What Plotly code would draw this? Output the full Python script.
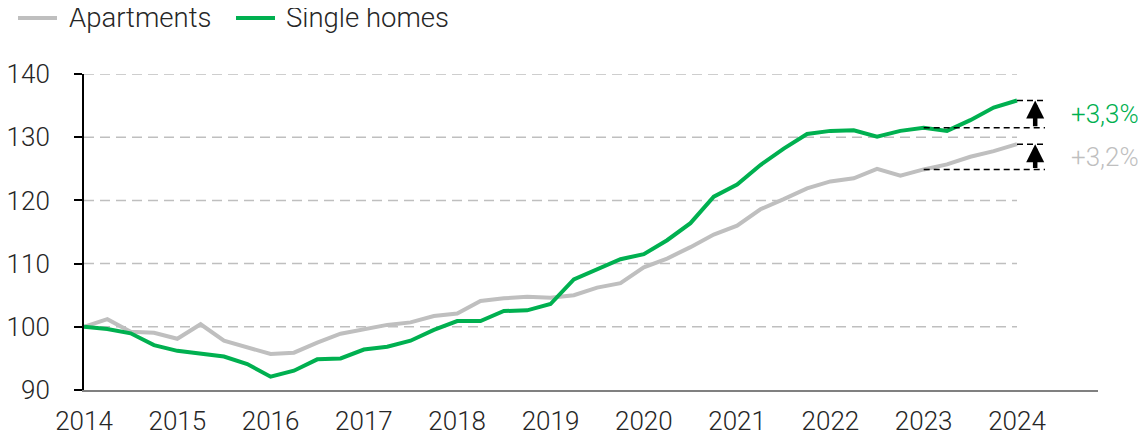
import plotly.graph_objects as go

# ---------------- data ----------------
start_year = 2014
quarters_per_year = 4
apartments = [100.0, 101.2, 99.2, 99.05, 98.1, 100.4, 97.8, 96.75, 95.7, 95.9,
              97.5, 98.9, 99.65, 100.3, 100.7, 101.7, 102.1, 104.1, 104.5, 104.75,
              104.6, 105.0, 106.2, 106.9, 109.4, 110.8, 112.6, 114.6, 116.0, 118.6,
              120.2, 121.9, 123.0, 123.5, 125.0, 123.9, 124.9, 125.7, 126.9, 127.8,
              128.9]
single_homes = [100.0, 99.65, 98.97, 97.1, 96.2, 95.7, 95.3, 94.1, 92.1, 93.05,
                94.85, 95.0, 96.4, 96.85, 97.8, 99.5, 100.9, 100.9, 102.5, 102.6,
                103.6, 107.5, 109.1, 110.7, 111.5, 113.7, 116.4, 120.6, 122.5, 125.6,
                128.2, 130.5, 131.0, 131.1, 130.1, 131.0, 131.5, 131.0, 132.7, 134.7,
                135.8]
series_names = ["Apartments", "Single homes"]
year_ticks = list(range(2014, 2025))
y_ticks = [90, 100, 110, 120, 130, 140]
yoy_labels = ["+3,2%", "+3,3%"]

x = [start_year + i / quarters_per_year for i in range(len(apartments))]

# ---------------- style ----------------
GRAY = "#BFBFBF"
GREEN = "#00B050"
TEXT = "#262626"
FONT = dict(family="Roboto", size=26, color=TEXT, weight=300)
LEG_FONT = dict(family="Roboto", size=27.5, color=TEXT, weight=300)

OFF = 8  # page body margin
W, H = 1146 - OFF, 439 - OFF
L, T = 84 - OFF, 74 - OFF
plot_w, plot_h = 1014, 316
R = W - L - plot_w
B = H - T - plot_h
px_per_year = 93.3
x_max = start_year + plot_w / px_per_year


def paper_x(px):
    return (px - OFF - L) / plot_w


def paper_y(py):
    return (T + plot_h - (py - OFF)) / plot_h


fig = go.Figure()
for name, vals, col in [(series_names[0], apartments, GRAY),
                        (series_names[1], single_homes, GREEN)]:
    fig.add_trace(go.Scatter(x=x, y=vals, name=name, mode="lines",
                             line=dict(color=col, width=4), showlegend=False,
                             hoverinfo="x+y"))

shapes = []
# dashed gridlines ending at last data point
for v in y_ticks[1:]:
    shapes.append(dict(type="line", xref="x", yref="y", x0=x[0], x1=x[-1], y0=v, y1=v,
                       line=dict(color=GRAY, width=1.5, dash="10px,6px"), layer="below"))

annotations = []
base_idx = len(x) - 1 - quarters_per_year
dash_end = x[-1] + 0.30
arrow_x = x[-1] + 0.195
for vals, col, lab in [(apartments, GRAY, yoy_labels[0]), (single_homes, GREEN, yoy_labels[1])]:
    last, base = vals[-1], vals[base_idx]
    shapes.append(dict(type="line", xref="x", yref="y", x0=x[-1], x1=dash_end, y0=last, y1=last,
                       line=dict(color="black", width=1.5, dash="6px,4px")))
    shapes.append(dict(type="line", xref="x", yref="y", x0=x[base_idx], x1=dash_end, y0=base, y1=base,
                       line=dict(color="black", width=1.5, dash="6px,4px")))
    annotations.append(dict(x=arrow_x, y=last, xref="x", yref="y", ax=arrow_x, ay=base,
                            axref="x", ayref="y", text="", showarrow=True, arrowhead=2,
                            arrowsize=0.8, arrowwidth=4.5, arrowcolor="black"))
    annotations.append(dict(x=dash_end, y=(last + base) / 2, xref="x", yref="y", text=lab,
                            showarrow=False, xanchor="left", yanchor="middle", xshift=24,
                            font=dict(family="Roboto", size=26, color=col, weight=300)))

# custom legend
leg_y = paper_y(18)
for name, col, x0, x1, tx in [(series_names[0], GRAY, 18, 57, 67),
                              (series_names[1], GREEN, 236, 275, 284)]:
    shapes.append(dict(type="line", xref="paper", yref="paper", x0=paper_x(x0), x1=paper_x(x1),
                       y0=leg_y, y1=leg_y, line=dict(color=col, width=4)))
    annotations.append(dict(x=paper_x(tx), y=leg_y, xref="paper", yref="paper", text=name,
                            showarrow=False, xanchor="left", yanchor="middle", font=LEG_FONT))

fig.update_layout(
    width=W, height=H,
    margin=dict(l=L, r=R, t=T, b=B, pad=0, autoexpand=False),
    paper_bgcolor="white", plot_bgcolor="white",
    font=FONT,
    shapes=shapes, annotations=annotations,
    showlegend=False,
    xaxis=dict(range=[start_year, x_max], tickvals=year_ticks, ticktext=[str(y) for y in year_ticks],
               showgrid=False, zeroline=False, showline=True, linecolor="#808080", linewidth=2,
               ticks="", ticklabelstandoff=7, tickfont=FONT, automargin=False),
    yaxis=dict(range=[90, 140], tickvals=y_ticks, showgrid=False, zeroline=False,
               showline=True, linecolor="black", linewidth=2, ticks="outside", ticklen=8,
               tickwidth=2, tickcolor="black", ticklabelstandoff=19, tickfont=FONT,
               automargin=False),
)

fig.write_html("out.html", config={"displayModeBar": False})
